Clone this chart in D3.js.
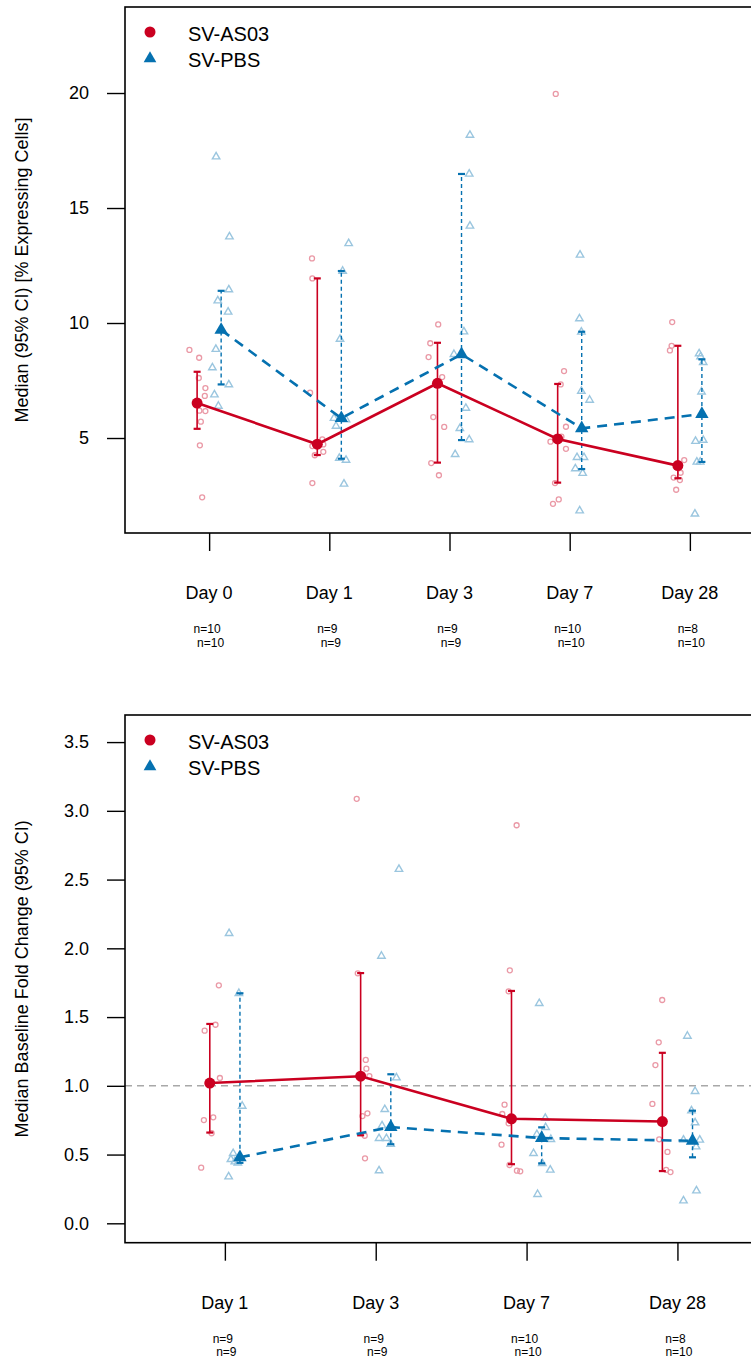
<!DOCTYPE html>
<html>
<head>
<meta charset="utf-8">
<script src="https://cdn.jsdelivr.net/npm/d3@7"></script>
<style>
  html, body { margin: 0; padding: 0; background: #fff; }
  svg { display: block; }
  text { font-family: "Liberation Sans", Arial, Helvetica, sans-serif; fill: #000; }
  .nlab { font-family: "Liberation Sans Narrow", "Liberation Sans", Arial, sans-serif; }
</style>
</head>
<body>
<script>
// ---------- Panel A: % expressing cells ----------
const daysA = ["Day 0", "Day 1", "Day 3", "Day 7", "Day 28"];
const nA_AS03 = [10, 9, 9, 10, 8];
const nA_PBS = [10, 9, 9, 10, 10];
const medA_AS03 = [6.52, 4.73, 7.38, 4.96, 3.80];
const loA_AS03 = [5.40, 4.26, 3.93, 3.06, 3.25];
const hiA_AS03 = [7.88, 11.94, 9.14, 7.35, 9.01];
const medA_PBS = [9.70, 5.86, 8.64, 5.42, 6.04];
const loA_PBS = [7.33, 4.10, 4.91, 3.65, 3.96];
const hiA_PBS = [11.40, 12.26, 16.48, 9.62, 8.42];
const yTicksA = [5, 10, 15, 20];

// individual subject values per visit, with their jitter (in visit units)
const ptsA_AS03 = [
  [8.83, 8.49, 7.61, 7.17, 6.83, 6.19, 6.17, 5.71, 4.68, 2.42],
  [12.81, 11.94, 6.97, 4.94, 4.72, 4.65, 4.40, 4.25, 3.04],
  [9.94, 9.12, 8.52, 7.65, 7.38, 5.91, 5.48, 3.91, 3.38],
  [19.96, 7.91, 7.33, 5.49, 5.06, 4.84, 4.53, 3.04, 2.33, 2.14],
  [10.04, 9.01, 8.81, 4.04, 3.49, 3.28, 3.17, 2.75]
];
const jitA_AS03 = [
  [-0.164, -0.083, -0.086, -0.031, -0.036, -0.081, -0.031, -0.069, -0.077, -0.058],
  [-0.144, -0.141, -0.160, -0.058, -0.050, -0.141, -0.050, -0.121, -0.141],
  [-0.094, -0.160, -0.174, -0.061, -0.105, -0.135, -0.044, -0.152, -0.088],
  [-0.116, -0.047, -0.075, -0.031, -0.069, -0.160, -0.031, -0.122, -0.091, -0.139],
  [-0.147, -0.152, -0.166, -0.047, -0.077, -0.135, -0.083, -0.114]
];
const ptsA_PBS = [
  [17.23, 13.75, 11.45, 10.97, 10.48, 8.86, 8.06, 7.32, 6.88, 6.39],
  [13.46, 12.26, 9.30, 5.86, 5.80, 5.52, 4.12, 4.04, 3.00],
  [18.17, 16.48, 14.22, 9.62, 8.64, 6.30, 5.42, 4.93, 4.29],
  [12.96, 10.19, 9.61, 7.04, 6.65, 4.16, 4.16, 3.67, 3.47, 1.84],
  [8.67, 8.54, 8.29, 7.01, 6.02, 4.91, 4.86, 3.96, 3.96, 1.70]
];
const jitA_PBS = [
  [0.058, 0.169, 0.164, 0.072, 0.158, 0.056, 0.027, 0.164, 0.044, 0.077],
  [0.161, 0.111, 0.089, 0.039, 0.139, 0.056, 0.083, 0.139, 0.122],
  [0.170, 0.164, 0.170, 0.120, 0.037, 0.136, 0.086, 0.164, 0.047],
  [0.086, 0.081, 0.097, 0.097, 0.166, 0.061, 0.119, 0.047, 0.108, 0.083],
  [0.077, 0.089, 0.111, 0.097, 0.100, 0.111, 0.047, 0.058, 0.086, 0.042]
];

// ---------- Panel B: fold change from baseline ----------
const daysB = ["Day 1", "Day 3", "Day 7", "Day 28"];
const nB_AS03 = [9, 9, 10, 8];
const nB_PBS = [9, 9, 10, 10];
const medB_AS03 = [1.02, 1.07, 0.76, 0.74];
const loB_AS03 = [0.66, 0.64, 0.43, 0.38];
const hiB_AS03 = [1.45, 1.82, 1.69, 1.24];
const medB_PBS = [0.48, 0.70, 0.62, 0.60];
const loB_PBS = [0.44, 0.575, 0.436, 0.48];
const hiB_PBS = [1.673, 1.084, 0.698, 0.819];
const yTicksB = [0.0, 0.5, 1.0, 1.5, 2.0, 2.5, 3.0, 3.5];
const refLineB = 1.0;

const ptsB_AS03 = [
  [1.731, 1.444, 1.401, 1.057, 1.02, 0.771, 0.751, 0.655, 0.405],
  [3.087, 1.818, 1.188, 1.125, 1.071, 0.80, 0.78, 0.637, 0.473],
  [2.895, 1.84, 1.687, 0.863, 0.795, 0.727, 0.572, 0.424, 0.383, 0.378],
  [1.624, 1.316, 1.151, 0.868, 0.611, 0.519, 0.388, 0.373]
];
const jitB_AS03 = [
  [-0.040, -0.062, -0.134, -0.033, -0.106, -0.077, -0.139, -0.088, -0.157],
  [-0.126, -0.119, -0.066, -0.062, -0.042, -0.055, -0.088, -0.073, -0.071],
  [-0.066, -0.111, -0.119, -0.146, -0.161, -0.119, -0.166, -0.113, -0.064, -0.042],
  [-0.101, -0.124, -0.146, -0.166, -0.121, -0.066, -0.075, -0.046]
];
const ptsB_PBS = [
  [2.109, 1.673, 0.853, 0.509, 0.48, 0.465, 0.448, 0.44, 0.339],
  [2.575, 1.944, 1.059, 0.829, 0.710, 0.618, 0.618, 0.575, 0.383],
  [1.60, 0.764, 0.698, 0.647, 0.625, 0.611, 0.509, 0.436, 0.388, 0.211],
  [1.362, 0.96, 0.819, 0.732, 0.606, 0.606, 0.60, 0.557, 0.237, 0.164]
];
const jitB_PBS = [
  [0.028, 0.093, 0.115, 0.055, 0.093, 0.040, 0.066, 0.086, 0.025],
  [0.154, 0.038, 0.137, 0.060, 0.042, 0.022, 0.071, 0.099, 0.022],
  [0.084, 0.124, 0.126, 0.068, 0.099, 0.161, 0.046, 0.104, 0.157, 0.073],
  [0.066, 0.117, 0.093, 0.117, 0.148, 0.040, 0.099, 0.124, 0.126, 0.040]
];

const groups = ["SV-AS03", "SV-PBS"];

// ---------- styling ----------
const RED = "#ca0020", BLUE = "#0571b0";
const RED_LIGHT = "#ea99a6", BLUE_LIGHT = "#9bc6df";
const DODGE = 0.1;

const W = 751, H = 1361;
const svg = d3.select("body").append("svg").attr("width", W).attr("height", H);
svg.append("rect").attr("width", W).attr("height", H).attr("fill", "#fff");

function drawPanel(cfg) {
  const g = svg.append("g");
  const x = d3.scaleLinear().domain(cfg.xDomain).range([cfg.left, cfg.right]);
  const y = d3.scaleLinear().domain(cfg.yDomain).range([cfg.bottom, cfg.top]);
  const pos = cfg.days.map((d, i) => i + 1);

  // reference line
  if (cfg.ref != null) {
    g.append("line")
      .attr("x1", cfg.left).attr("x2", cfg.right)
      .attr("y1", y(cfg.ref)).attr("y2", y(cfg.ref))
      .attr("stroke", "#a8a8a8").attr("stroke-width", 1.5)
      .attr("stroke-dasharray", "7,5");
  }

  // individual subject points
  const tri = d3.symbol().type(d3.symbolTriangle);
  cfg.ptsA.forEach((arr, i) => {
    g.selectAll(null).data(arr.map((v, k) => ({ v, j: cfg.jitA[i][k], p: pos[i] })))
      .join("circle")
      .attr("cx", d => x(d.p + d.j)).attr("cy", d => y(d.v)).attr("r", 2.5)
      .attr("fill", "none").attr("stroke", RED_LIGHT).attr("stroke-width", 1.3);
  });
  cfg.ptsB.forEach((arr, i) => {
    g.selectAll(null).data(arr.map((v, k) => ({ v, j: cfg.jitB[i][k], p: pos[i] })))
      .join("path")
      .attr("d", tri.size(24)())
      .attr("transform", d => `translate(${x(d.p + d.j)},${y(d.v)})`)
      .attr("fill", "none").attr("stroke", BLUE_LIGHT).attr("stroke-width", 1.4);
  });

  // confidence intervals
  function ci(lo, hi, off, color, dash, sw) {
    pos.forEach((p, i) => {
      const cx = x(p + off);
      g.append("line").attr("x1", cx).attr("x2", cx)
        .attr("y1", y(lo[i])).attr("y2", y(hi[i]))
        .attr("stroke", color).attr("stroke-width", sw)
        .attr("stroke-dasharray", dash);
      [lo[i], hi[i]].forEach(v => {
        g.append("line").attr("x1", cx - 3.5).attr("x2", cx + 3.5)
          .attr("y1", y(v)).attr("y2", y(v))
          .attr("stroke", color).attr("stroke-width", 2.2);
      });
    });
  }
  ci(cfg.loA, cfg.hiA, -DODGE, RED, null, 1.6);
  ci(cfg.loB, cfg.hiB, DODGE, BLUE, "4,3", 1.4);

  // median trajectories
  const lineGen = off => d3.line().x((d, i) => x(pos[i] + off)).y(d => y(d));
  g.append("path").datum(cfg.medB).attr("d", lineGen(DODGE))
    .attr("fill", "none").attr("stroke", BLUE).attr("stroke-width", 2.6)
    .attr("stroke-dasharray", "10,7");
  g.append("path").datum(cfg.medA).attr("d", lineGen(-DODGE))
    .attr("fill", "none").attr("stroke", RED).attr("stroke-width", 2.6);

  g.selectAll(null).data(cfg.medA).join("circle")
    .attr("cx", (d, i) => x(pos[i] - DODGE)).attr("cy", d => y(d)).attr("r", 5.5)
    .attr("fill", RED);
  g.selectAll(null).data(cfg.medB).join("path")
    .attr("d", d3.symbol().type(d3.symbolTriangle).size(78)())
    .attr("transform", (d, i) => `translate(${x(pos[i] + DODGE)},${y(d)})`)
    .attr("fill", BLUE);

  // frame
  g.append("rect").attr("x", cfg.left).attr("y", cfg.top)
    .attr("width", cfg.right - cfg.left).attr("height", cfg.bottom - cfg.top)
    .attr("fill", "none").attr("stroke", "#000").attr("stroke-width", 1.6);

  // y axis
  const yAxis = g.append("g").attr("transform", `translate(${cfg.left},0)`)
    .call(d3.axisLeft(y).tickValues(cfg.yTicks).tickSize(18).tickPadding(18)
      .tickFormat(cfg.yFormat));
  yAxis.select(".domain").remove();
  yAxis.selectAll(".tick line").attr("stroke", "#000").attr("stroke-width", 1.4);
  yAxis.selectAll(".tick text").attr("font-size", 18)
    .attr("font-family", "'Liberation Sans', Arial, sans-serif");

  // x axis
  const xAxis = g.append("g").attr("transform", `translate(0,${cfg.bottom})`)
    .call(d3.axisBottom(x).tickValues(pos).tickSize(18).tickFormat(""));
  xAxis.select(".domain").remove();
  xAxis.selectAll(".tick line").attr("stroke", "#000").attr("stroke-width", 1.4);

  pos.forEach((p, i) => {
    g.append("text").attr("x", x(p)).attr("y", cfg.bottom + cfg.dayOffset)
      .attr("text-anchor", "middle").attr("font-size", 18).text(cfg.days[i]);
    g.append("text").attr("class", "nlab").attr("x", x(p) - 2).attr("y", cfg.bottom + 100)
      .attr("text-anchor", "middle").attr("font-size", 12).text("n=" + cfg.nA[i]);
    g.append("text").attr("class", "nlab").attr("x", x(p) + 1.5).attr("y", cfg.bottom + 113.5)
      .attr("text-anchor", "middle").attr("font-size", 12).text("n=" + cfg.nB[i]);
  });

  // y axis title
  g.append("text")
    .attr("transform", `translate(28,${(cfg.top + cfg.bottom) / 2}) rotate(-90)`)
    .attr("text-anchor", "middle").attr("font-size", 18).text(cfg.yTitle);

  // legend
  const lx = 150;
  g.append("circle").attr("cx", lx).attr("cy", cfg.top + 25).attr("r", 5.5).attr("fill", RED);
  g.append("path").attr("d", d3.symbol().type(d3.symbolTriangle).size(70)())
    .attr("transform", `translate(${lx},${cfg.top + 51.5})`).attr("fill", BLUE);
  g.append("text").attr("x", 188).attr("y", cfg.top + 33.5).attr("font-size", 20).text(groups[0]);
  g.append("text").attr("x", 188).attr("y", cfg.top + 59.5).attr("font-size", 20).text(groups[1]);
}

drawPanel({
  days: daysA, nA: nA_AS03, nB: nA_PBS,
  medA: medA_AS03, loA: loA_AS03, hiA: hiA_AS03,
  medB: medA_PBS, loB: loA_PBS, hiB: hiA_PBS,
  ptsA: ptsA_AS03, jitA: jitA_AS03, ptsB: ptsA_PBS, jitB: jitA_PBS,
  yTicks: yTicksA, yFormat: d3.format("d"),
  yTitle: "Median (95% CI) [% Expressing Cells]",
  xDomain: [0.3, 5.7], yDomain: [0.87, 23.74],
  left: 125, right: 774, top: 7, bottom: 533, dayOffset: 65.5, ref: null
});

drawPanel({
  days: daysB, nA: nB_AS03, nB: nB_PBS,
  medA: medB_AS03, loA: loB_AS03, hiA: hiB_AS03,
  medB: medB_PBS, loB: loB_PBS, hiB: hiB_PBS,
  ptsA: ptsB_AS03, jitA: jitB_AS03, ptsB: ptsB_PBS, jitB: jitB_PBS,
  yTicks: yTicksB, yFormat: d3.format(".1f"),
  yTitle: "Median Baseline Fold Change (95% CI)",
  xDomain: [0.338, 4.66], yDomain: [-0.141, 3.697],
  left: 125, right: 777, top: 715, bottom: 1242.7, dayOffset: 66, ref: refLineB
});
</script>
</body>
</html>
